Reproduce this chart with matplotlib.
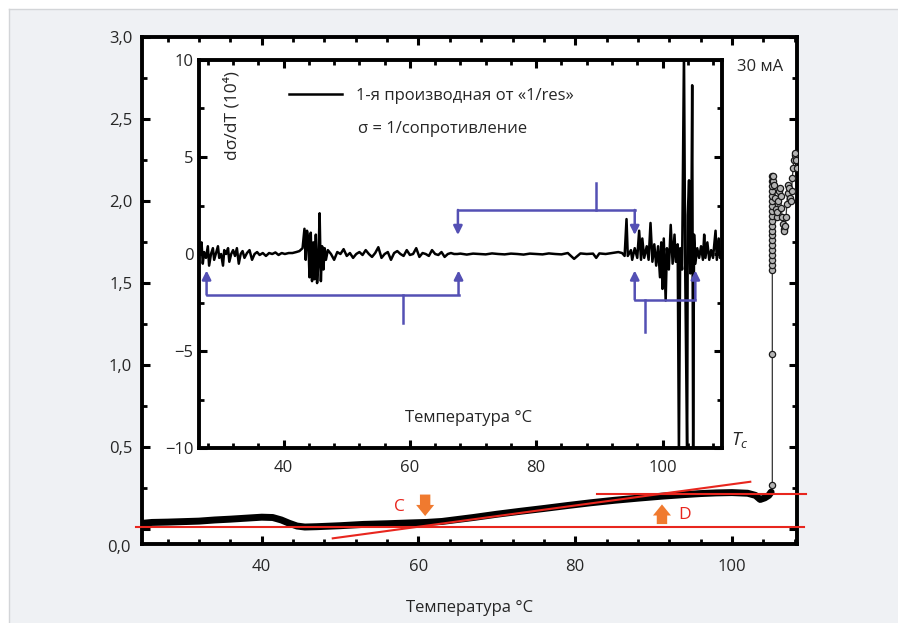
import matplotlib
matplotlib.use('Agg')
import matplotlib.pyplot as plt
from matplotlib.ticker import MultipleLocator, FixedLocator, FixedFormatter
from matplotlib.lines import Line2D

plt.rcParams['font.family'] = ['Open Sans', 'DejaVu Sans']
plt.rcParams['axes.unicode_minus'] = True
plt.rcParams['mathtext.fontset'] = 'custom'
plt.rcParams['mathtext.it'] = 'Open Sans:italic'
plt.rcParams['mathtext.rm'] = 'Open Sans'

# ---------------- data ----------------
# outer curve: conductivity sigma vs temperature
sigma_T = [24.9, 26, 28, 30, 32, 34, 36, 38, 40, 41.4, 42.5, 43.5, 44.5, 45.5, 47,
           50, 53, 56, 59, 61, 63, 65, 67, 70, 73, 76, 79, 82, 85, 88, 91, 94, 96,
           98, 100, 102, 103, 103.6, 104.2, 104.7, 105.0]
sigma_val = [0.035, 0.04, 0.042, 0.045, 0.048, 0.055, 0.06, 0.066, 0.072, 0.07, 0.055,
             0.035, 0.018, 0.012, 0.014, 0.02, 0.028, 0.032, 0.037, 0.04, 0.046, 0.058,
             0.07, 0.09, 0.108, 0.125, 0.143, 0.16, 0.175, 0.188, 0.2, 0.21, 0.216,
             0.22, 0.222, 0.218, 0.205, 0.18, 0.19, 0.205, 0.225]
# points above the transition (open markers)
jump_T = [105.15, 105.15, 105.15, 105.15, 105.15, 105.15, 105.15, 105.15, 105.15,
          105.15, 105.15, 105.15, 105.15, 105.15, 105.15, 105.15, 105.15, 105.15,
          105.15, 105.15, 105.15, 105.15,
          105.2, 105.3, 105.4, 105.5, 105.6, 105.7, 105.8, 105.9, 106.0, 106.1, 106.2,
          106.3, 106.4, 106.5, 106.6, 106.7, 106.8, 106.9, 107.0, 107.1, 107.2, 107.3,
          107.4, 107.5, 107.6, 107.7, 107.8, 107.9, 108.0, 108.1, 108.2, 108.3]
jump_val = [0.27, 1.07, 1.58, 1.61, 1.64, 1.67, 1.70, 1.73, 1.76, 1.79, 1.82, 1.85,
            1.88, 1.91, 1.94, 1.97, 2.00, 2.03, 2.06, 2.09, 2.12, 2.15,
            2.12, 2.15, 2.1, 2.02, 1.95, 1.9, 1.93, 2.0, 2.06, 2.08, 2.03,
            1.96, 1.9, 1.86, 1.83, 1.82, 1.85, 1.9, 1.98, 2.05, 2.1, 2.08,
            2.02, 2.0, 2.06, 2.14, 2.2, 2.25, 2.28, 2.29, 2.25, 2.2]

# inset: first derivative d(sigma)/dT (x 10^4)
deriv_T = [26.8, 27.0, 27.2, 27.4, 27.7, 28.0, 28.2, 28.5, 28.8, 29.0, 29.3, 29.6, 29.8,
           30.1, 30.4, 30.6, 30.9, 31.2, 31.4, 31.7, 32.0, 32.3, 32.6, 32.9, 33.2, 33.5,
           33.8, 34.2, 34.6, 35.0, 35.4, 35.8, 36.2, 36.7, 37.2, 37.7, 38.2, 38.7, 39.2,
           39.7, 40.2, 40.8, 41.4, 42.0, 42.5, 43.0,
           43.3, 43.5, 43.7, 43.9, 44.1, 44.3, 44.5, 44.7, 44.9, 45.1, 45.3, 45.5, 45.7,
           45.9, 46.1, 46.3, 46.5, 46.7, 47.0,
           47.5, 48.0, 48.5, 49.0, 49.5, 50.0, 50.5, 51.0, 51.5, 52.0, 52.5, 53.0, 53.5,
           54.0, 54.5, 55.0, 55.5, 56.0, 56.5, 57.0, 57.5, 58.0, 58.5, 59.0, 59.5, 60.0,
           60.5, 61.0, 61.5, 62.0, 62.5, 63.0, 63.5, 64.0, 64.5, 65.0, 65.5, 66.0, 66.5,
           67.0, 67.5,
           68, 69, 70, 71, 72, 73, 74, 75, 76, 77, 78, 79, 80, 81, 82, 83, 84, 85, 86,
           87, 88, 89, 89.5, 90, 91, 92, 93,
           93.6, 94.0, 94.3, 94.5, 95.0, 95.2, 95.6, 96.0, 96.3, 96.6, 96.8, 97.1, 97.5,
           97.8, 98.1, 98.4, 98.7, 99.0, 99.3, 99.6, 99.8, 100.0, 100.2, 100.5, 100.7,
           101.0, 101.3, 101.6, 101.9, 102.1, 102.4, 102.6, 102.8, 103.1, 103.4, 103.6,
           103.9, 104.0, 104.2, 104.4, 104.6, 104.7, 104.85, 105.0, 105.2, 105.5, 105.8,
           106.1, 106.4, 106.6, 106.8, 107.1, 107.4, 107.7, 108.0, 108.4, 108.6, 108.9,
           109.1, 109.4]
deriv_val = [0.0, 0.6, -0.5, 0.1, -0.2, 0.4, -0.6, 0.0, 0.3, -0.3, 0.05, 0.4, -0.2,
             0.0, -0.6, 0.2, 0.0, 0.3, -0.4, 0.0, 0.2, -0.1, 0.3, -0.5, 0.0, 0.15,
             -0.2, 0.05, 0.2, -0.3, 0.0, 0.1, -0.05, 0.05, -0.1, 0.05, 0.0, 0.08, -0.05,
             0.05, 0.0, 0.05, 0.05, 0.1, 0.15, 0.3,
             1.3, -0.3, 1.2, 0.8, -1.2, 1.1, -1.4, 0.6, -1.3, 1.0, -1.5, -0.5, 2.1,
             -1.4, 0.4, -0.8, 0.3, -0.3, 0.2,
             0.0, -0.3, 0.1, 0.0, 0.25, -0.1, 0.05, -0.2, 0.0, 0.1, -0.05, 0.2, 0.0,
             -0.15, 0.05, 0.35, -0.2, 0.0, 0.1, -0.3, 0.05, 0.15, 0.0, -0.1, 0.2, -0.05,
             0.0, 0.3, -0.15, 0.05, 0.0, -0.1, 0.2, 0.0, -0.05, 0.1, -0.15, 0.0, 0.05,
             0.0, 0.0,
             0.02, -0.03, 0.02, 0.0, -0.02, 0.03, 0.0, -0.02, 0.02, 0.0, -0.03, 0.02,
             0.0, -0.02, 0.03, 0.0, -0.02, 0.05, -0.25, 0.03, 0.0, 0.02, -0.2, 0.03,
             0.0, 0.05, 0.1,
             0.05, -0.1, 1.8, -0.1, 0.2, -0.3, 0.3, -0.2, 1.2, -0.3, 0.8, -0.2, 0.4,
             -0.3, 1.6, -0.4, 0.5, -0.6, 0.4, -1.2, 0.6, -1.8, 0.8, -2.4, 0.3,
             -0.8, 1.5, -0.5, 1.0, -0.4, 0.5, -10.5, 0.3, -0.8, 10.5, -1.0,
             -10.5, 2.0, 3.8, -1.0, 3.0, 8.7, -10.5, 1.0, -0.5, 0.3, -0.2,
             0.4, -0.3, 1.0, -0.2, 0.6, -0.3, 0.2, -0.2, 1.2, -0.3, 0.8,
             -0.2, 0.1]

# red guide lines on the main plot
base_T = [24.0, 109.2]
base_val = [0.0104, 0.0104]
slope_T = [49.06, 102.34]
slope_val = [-0.057, 0.288]
top_T = [82.8, 109.4]
top_val = [0.212, 0.212]

# labels
outer_xticks = [40, 60, 80, 100]
outer_xlabels = ['40', '60', '80', '100']
outer_yticks = [0.0, 0.5, 1.0, 1.5, 2.0, 2.5, 3.0]
outer_ylabels = ['', '0,5', '1,0', '1,5', '2,0', '2,5', '3,0']
inner_xticks = [40, 60, 80, 100]
inner_xlabels = ['40', '60', '80', '100']
inner_yticks = [-10, -5, 0, 5, 10]
inner_ylabels = ['\u221210', '\u22125', '0', '5', '10']

# bracket annotations in the inset: (x_left, x_right, y_bar, y_tip, x_stem, y_stem)
brackets = [
    (27.8, 67.7, -2.1, -0.85, 58.9, -3.55),
    (67.6, 95.6, 2.27, 0.98, 89.4, 3.66),
    (95.6, 105.2, -2.35, -0.85, 97.3, -4.0),
]

# ---------------- figure ----------------
W, H = 898, 623
fig = plt.figure(figsize=(W / 100, H / 100), dpi=100, facecolor='#eff1f4')
fig.patches.append(plt.Rectangle((0, 0), 9 / W, 1, transform=fig.transFigure,
                                 facecolor='white', edgecolor='none', zorder=0))
fig.patches.append(plt.Rectangle((0, 1 - 9 / H), 1, 9 / H, transform=fig.transFigure,
                                 facecolor='white', edgecolor='none', zorder=0))
fig.lines.append(Line2D([9 / W, 9 / W], [0, 1 - 9 / H], transform=fig.transFigure,
                        color='#d3d5d8', lw=1.0))
fig.lines.append(Line2D([9 / W, 1], [1 - 9 / H, 1 - 9 / H], transform=fig.transFigure,
                        color='#d3d5d8', lw=1.0))

txt = '#262626'
ax = fig.add_axes([142 / W, 1 - 544 / H, 655 / W, 507 / H])
ax.set_facecolor('white')
ax.set_xlim(24.72, 108.3)
ax.set_ylim(-0.0915, 3.0)
for s in ax.spines.values():
    s.set_linewidth(2.8)
    s.set_color('black')
ax.xaxis.set_major_locator(FixedLocator(outer_xticks))
ax.xaxis.set_major_formatter(FixedFormatter(outer_xlabels))
ax.xaxis.set_minor_locator(MultipleLocator(4))
ax.yaxis.set_major_locator(FixedLocator(outer_yticks))
ax.yaxis.set_major_formatter(FixedFormatter(outer_ylabels))
ax.yaxis.set_minor_locator(MultipleLocator(0.25))
ax.tick_params(which='both', direction='in', top=True, right=True, colors='black',
               labelcolor=txt, labelsize=12)
ax.tick_params(which='major', length=6, width=2.2)
ax.tick_params(which='minor', length=3.5, width=2)
ax.tick_params(axis='x', which='major', pad=11)
ax.tick_params(axis='y', which='major', pad=7)
ax.text(-0.017, -0.007, '0,0', transform=ax.transAxes, ha='right', va='center',
        fontsize=12, color=txt)

# main curve
ax.plot(sigma_T, sigma_val, color='black', lw=5, solid_capstyle='round', zorder=3)
ax.plot(jump_T, jump_val, color='#333333', lw=0.9, marker='o', ms=4.5,
        mfc='#b4b4b4', mec='#1a1a1a', mew=0.9, zorder=3)

# red guide lines
red = '#e8261e'
ax.plot(base_T, base_val, color=red, lw=1.5, clip_on=False, zorder=4)
ax.plot(slope_T, slope_val, color=red, lw=1.5, clip_on=False, zorder=4)
ax.plot(top_T, top_val, color=red, lw=1.5, clip_on=False, zorder=4)

# C / D markers
orange = '#f07a2f'
arrow_style = 'simple,head_width=1.3,head_length=0.8,tail_width=0.75'
ax.annotate('', xy=(60.85, 0.079), xytext=(60.85, 0.21),
            arrowprops=dict(arrowstyle=arrow_style, color=orange, lw=0,
                            shrinkA=0, shrinkB=0), zorder=5)
ax.annotate('', xy=(91.07, 0.15), xytext=(91.07, 0.03),
            arrowprops=dict(arrowstyle=arrow_style, color=orange, lw=0,
                            shrinkA=0, shrinkB=0), zorder=5)
ax.text(57.6, 0.134, 'C', color=red, fontsize=12.5, ha='center', va='center', zorder=5)
ax.text(93.9, 0.085, 'D', color=red, fontsize=12.5, ha='center', va='center', zorder=5)

ax.text(0.9435, 0.941, '30 мА', transform=ax.transAxes, ha='center', va='center',
        fontsize=12, color=txt)
ax.text(0.912, 0.205, r'$T_c$', transform=ax.transAxes, ha='center', va='center',
        fontsize=13.5, color=txt)

fig.text(470 / W, 1 - 608 / H, 'Температура °C', ha='center', va='center',
         fontsize=12, color=txt)

# ---------------- inset ----------------
ai = fig.add_axes([199 / W, 1 - 448 / H, 523.5 / W, 388 / H], zorder=3)
ai.set_facecolor('white')
ai.set_xlim(26.6, 109.5)
ai.set_ylim(-10, 10)
for s in ai.spines.values():
    s.set_linewidth(2.8)
    s.set_color('black')
ai.xaxis.set_major_locator(FixedLocator(inner_xticks))
ai.xaxis.set_major_formatter(FixedFormatter(inner_xlabels))
ai.xaxis.set_minor_locator(MultipleLocator(4))
ai.yaxis.set_major_locator(FixedLocator(inner_yticks))
ai.yaxis.set_major_formatter(FixedFormatter(inner_ylabels))
ai.yaxis.set_minor_locator(MultipleLocator(2.5))
ai.tick_params(which='both', direction='in', top=True, right=True, colors='black',
               labelcolor=txt, labelsize=12)
ai.tick_params(which='major', length=6, width=2.2)
ai.tick_params(which='minor', length=3.5, width=2)
ai.tick_params(axis='x', which='major', pad=9)
ai.tick_params(axis='y', which='major', pad=4)

line, = ai.plot(deriv_T, deriv_val, color='black', lw=1.8, zorder=3)

blue = '#5450b4'
for xl, xr, yb, yt, xs, ys in brackets:
    ai.plot([xl, xr], [yb, yb], color=blue, lw=1.8, zorder=4)
    ai.plot([xs, xs], [yb, ys], color=blue, lw=1.8, zorder=4)
    for xx in (xl, xr):
        ai.annotate('', xy=(xx, yt), xytext=(xx, yb),
                    arrowprops=dict(arrowstyle='-|>', color=blue, lw=1.8,
                                    mutation_scale=13, shrinkA=0, shrinkB=0), zorder=4)

leg = ai.legend([line], ['1-я производная от «1/res»'], loc='upper left',
                bbox_to_anchor=(0.172, 0.928), frameon=False, fontsize=12,
                handlelength=3.2, handletextpad=0.8, borderpad=0, borderaxespad=0)
for t in leg.get_texts():
    t.set_color(txt)
ai.text(0.304, 0.823, 'σ = 1/сопротивление', transform=ai.transAxes, ha='left',
        va='center', fontsize=12, color=txt)
ai.text(0.063, 0.857, 'dσ/dT (10⁴)', transform=ai.transAxes, rotation=90,
        ha='center', va='center', fontsize=12.5, color=txt)
ai.text(0.514, 0.077, 'Температура °C', transform=ai.transAxes, ha='center',
        va='center', fontsize=12, color=txt)

fig.savefig('out.png', dpi=100, facecolor=fig.get_facecolor())
